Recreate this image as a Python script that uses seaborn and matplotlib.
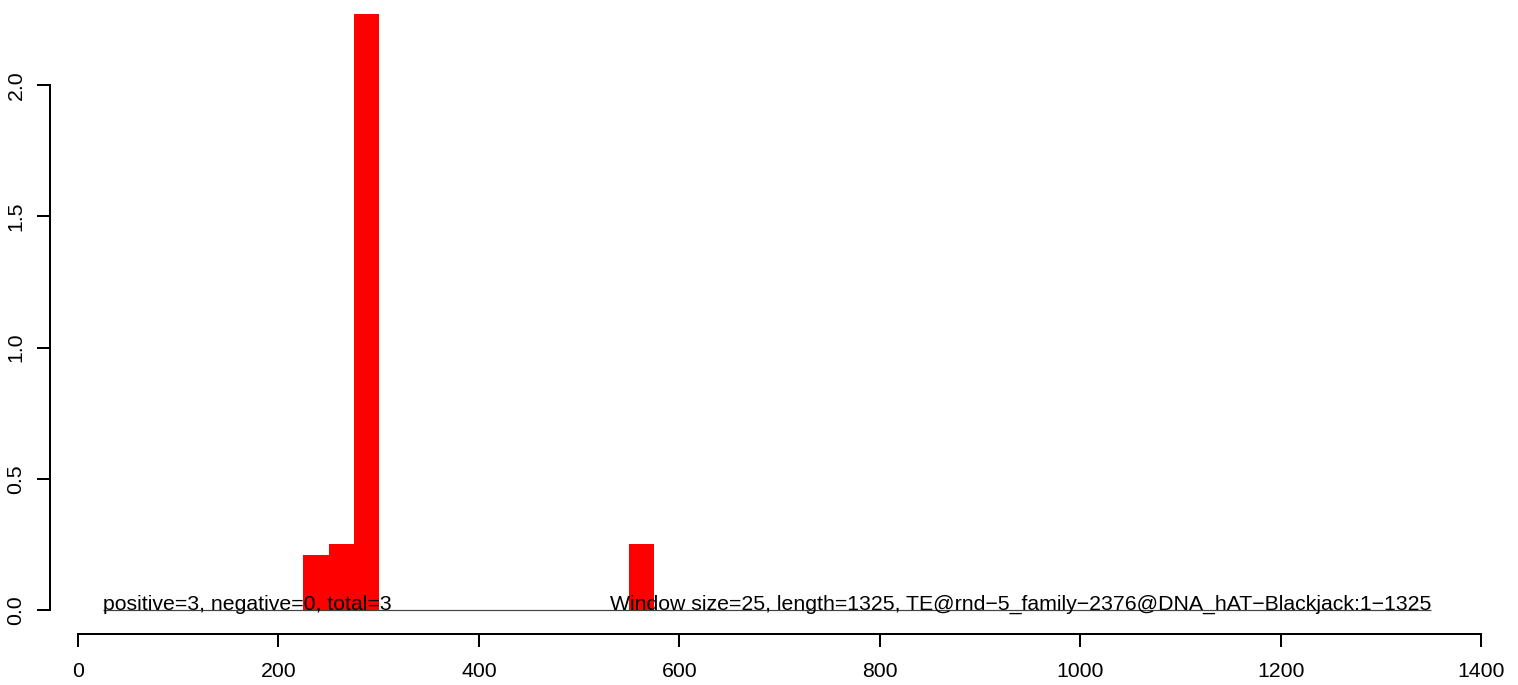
import numpy as np
import pandas as pd
import matplotlib
matplotlib.use("Agg")
import matplotlib.pyplot as plt
import seaborn as sns

# Window data (start of each 25 bp window with a non-zero score)
window_size = 25
seq_length = 1325
window_starts = [225, 250, 275, 550]
window_scores = [0.21, 0.25, 2.27, 0.25]

x_ticks = [0, 200, 400, 600, 800, 1000, 1200, 1400]
y_ticks = [0.0, 0.5, 1.0, 1.5, 2.0]

left_label = "positive=3, negative=0, total=3"
right_label = ("Window size=25, length=1325, "
               "TE@rnd\u22125_family\u22122376@DNA_hAT\u2212Blackjack:1\u22121325")

sns.set_style("white")
plt.rcParams['font.family'] = ['Liberation Sans', 'DejaVu Sans']

W, H = 1518, 685
DPI = 100
PT = 72 / DPI  # points per pixel
fig = plt.figure(figsize=(W / DPI, H / DPI), dpi=DPI)

# axes placed so that x 0..1400 -> px 78..1481 and y 0 -> px 610, 2.0 -> px 85
y_top = 2.3
px_per_y = (610 - 85) / 2.0
ax_bottom_px = 610
ax_top_px = 610 - y_top * px_per_y
ax = fig.add_axes([78 / W, 1 - ax_bottom_px / H, (1481 - 78) / W,
                   (ax_bottom_px - ax_top_px) / H])

df = pd.DataFrame({"start": window_starts, "score": window_scores})
edges = list(range(0, seq_length + window_size, window_size))
sns.histplot(data=df, x="start", weights="score", bins=edges, ax=ax,
             color="#ff0000", alpha=1, linewidth=0)

line_end = seq_length + window_size
ax.hlines(0, window_size, line_end, color="#444444", linewidth=1.2 * PT,
          clip_on=False, zorder=3)
ax.text(window_size, 0.0, left_label, ha="left", va="baseline",
        fontsize=15.3, color="black", clip_on=False, zorder=4)
ax.text(line_end, 0.0, right_label, ha="right", va="baseline",
        fontsize=15.3, color="black", clip_on=False, zorder=4)

ax.set_xlim(0, 1400)
ax.set_ylim(0, y_top)
ax.set_xlabel("")
ax.set_ylabel("")

ax.set_xticks(x_ticks)
ax.set_xticklabels([str(t) for t in x_ticks])
ax.set_yticks(y_ticks)
ax.set_yticklabels([f"{t:.1f}" for t in y_ticks])

for s in ["top", "right"]:
    ax.spines[s].set_visible(False)
ax.spines["bottom"].set_position(("outward", 24 * PT))
ax.spines["left"].set_position(("outward", 28 * PT))
ax.spines["bottom"].set_bounds(0, 1400)
ax.spines["left"].set_bounds(0, 2.0)
for s in ["bottom", "left"]:
    ax.spines[s].set_color("black")
    ax.spines[s].set_linewidth(2 * PT)

ax.tick_params(axis="both", which="both", direction="out", length=13 * PT,
               width=2 * PT, color="black", labelsize=15.3, labelcolor="black",
               bottom=True, left=True)
ax.tick_params(axis="x", pad=15 * PT)
ax.tick_params(axis="y", pad=11.5 * PT, labelrotation=90)
for lbl in ax.get_yticklabels():
    lbl.set_verticalalignment("center")

fig.savefig("out.png", dpi=DPI)
